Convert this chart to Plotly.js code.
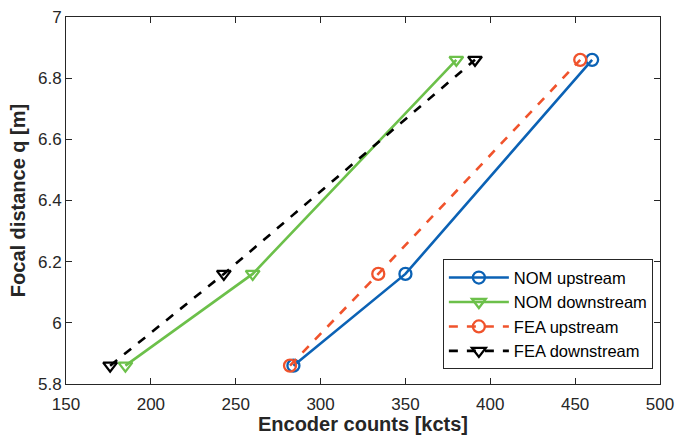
<!DOCTYPE html>
<html>
<head>
<meta charset="utf-8">
<script src="https://cdn.plot.ly/plotly-3.0.1.min.js"></script>
<style>html,body{margin:0;padding:0;background:#fff;}#chart{width:677px;height:435px;}</style>
</head>
<body>
<div id="chart"></div>
<script>
const focalDistance = [5.86, 6.16, 6.86];
const nomUpstream = [284, 350, 460];
const nomDownstream = [185, 260, 380];
const feaUpstream = [282, 334, 453];
const feaDownstream = [176, 243, 391];
const seriesNames = ["NOM upstream", "NOM downstream", "FEA upstream", "FEA downstream"];

const blue = "#0b62b5", green = "#6cc04a", red = "#f0532c", black = "#000000";
const FONT = "Liberation Sans, Arial, sans-serif";

function tr(x, name, color, dash, symbol) {
  return {
    x: x, y: focalDistance, name: name, type: "scatter", mode: "lines+markers",
    line: {color: color, width: 2.6, dash: dash},
    marker: {symbol: symbol, size: 12, color: color, line: {color: color, width: 2.3}}
  };
}
const data = [
  tr(nomUpstream, seriesNames[0], blue, "solid", "circle-open"),
  tr(nomDownstream, seriesNames[1], green, "solid", "triangle-down-open"),
  tr(feaUpstream, seriesNames[2], red, "dash", "circle-open"),
  tr(feaDownstream, seriesNames[3], black, "dash", "triangle-down-open")
];
const axisCommon = {
  showgrid: false, zeroline: false, showline: true, linecolor: "#262626", linewidth: 1,
  mirror: "ticks", ticks: "inside", ticklen: 6, tickcolor: "#262626",
  tickfont: {family: FONT, size: 17, color: "#262626"}
};
const layout = {
  width: 677, height: 435,
  margin: {l: 66, r: 17, t: 17, b: 51},
  paper_bgcolor: "#fff", plot_bgcolor: "#fff",
  showlegend: true,
  xaxis: Object.assign({}, axisCommon, {
    range: [150, 500], tickvals: [150, 200, 250, 300, 350, 400, 450, 500],
    ticklabelstandoff: 5,
    title: {text: "<b>Encoder counts [kcts]</b>", font: {family: FONT, size: 20, color: "#262626"}, standoff: 2}
  }),
  yaxis: Object.assign({}, axisCommon, {
    range: [5.8, 7], tickvals: [5.8, 6, 6.2, 6.4, 6.6, 6.8, 7],
    ticktext: ["5.8", "6", "6.2", "6.4", "6.6", "6.8", "7"],
    title: {text: "<b>Focal distance q [m]</b>", font: {family: FONT, size: 20, color: "#262626"}, standoff: 6}
  }),
  legend: {
    x: 0.988, y: 0.04, xanchor: "right", yanchor: "bottom",
    bgcolor: "#fff", bordercolor: "#262626", borderwidth: 1,
    font: {family: FONT, size: 16.5, color: "#000"},
    tracegroupgap: 0, itemwidth: 60
  }
};
Plotly.newPlot("chart", data, layout, {staticPlot: true});
</script>
</body>
</html>
